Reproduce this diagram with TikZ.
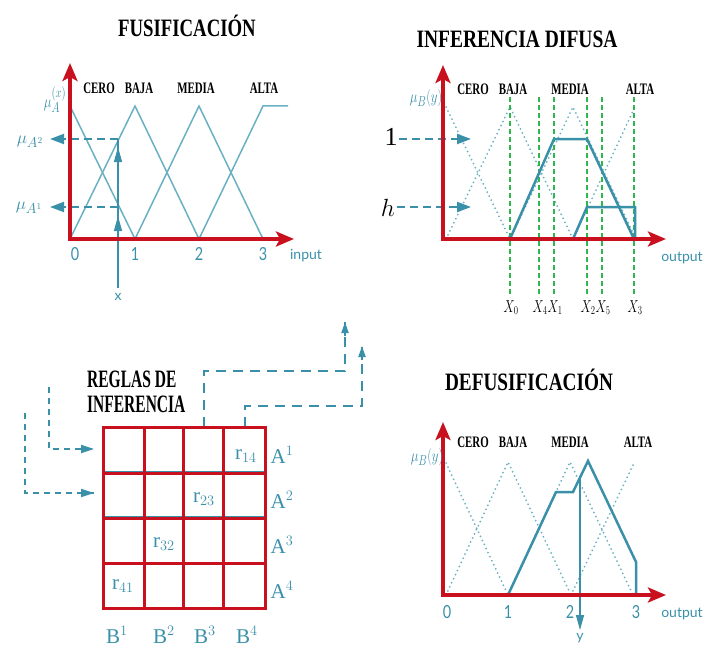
\documentclass[tikz,border=0pt]{standalone}
\usepackage{fontspec}
\setmainfont{Liberation Serif}
\newfontfamily\labfont{Lato}
\usetikzlibrary{arrows.meta}
\definecolor{axred}{HTML}{C8101E}
\definecolor{tealA}{HTML}{3A90A8}
\definecolor{tealB}{HTML}{6AB0C2}
\definecolor{gdash}{HTML}{2DB84C}
\newcommand{\hsc}[2]{\scalebox{#1}[1]{#2}}
\tikzset{
  axis/.style={axred, line width=3.6pt, line join=miter,
    {Stealth[length=18pt,width=15pt,inset=4pt]}-{Stealth[length=18pt,width=15pt,inset=4pt]}},
  mf/.style={tealB, line width=1.5pt},
  mfd/.style={tealB, line width=2pt, dash pattern=on 0pt off 4.5pt, line cap=round},
  sol/.style={tealA, line width=2.5pt, line join=miter},
  levdash/.style={tealA, line width=2pt, dash pattern=on 8pt off 5pt, -{Triangle[length=14pt,width=10pt]}},
  conn/.style={tealA, line width=2pt, dash pattern=on 10pt off 7pt},
  connsm/.style={tealA, line width=1.8pt, dash pattern=on 6pt off 5pt},
  gline/.style={gdash, line width=1.4pt, dash pattern=on 5pt off 3pt},
  uptip/.style={tealA, line width=1pt, -{Triangle[length=15pt,width=8pt]}},
  title/.style={font=\fontsize{25}{25}\selectfont\bfseries, inner sep=0, anchor=base},
  setlab/.style={font=\fontsize{16}{16}\selectfont\bfseries, inner sep=0, anchor=base},
  tnum/.style={tealA, font=\labfont\fontsize{18}{18}\selectfont, inner sep=0, anchor=base},
  tword/.style={tealA, font=\labfont\fontsize{14}{14}\selectfont, inner sep=0, anchor=base},
  mulab/.style={tealA, font=\fontsize{19}{19}\selectfont, inner sep=0},
  xlab/.style={font=\fontsize{18}{18}\selectfont, inner sep=0, anchor=base west},
  cell/.style={tealA, font=\fontsize{21}{21}\selectfont, inner sep=0},
  grid/.style={axred, line width=3pt},
}
\begin{document}
\begin{tikzpicture}[x=1pt,y=-1pt]
\useasboundingbox (0,0) rectangle (727,650);
\clip (0,0) rectangle (727,650);

% ================= FUSIFICACION =================
\node[title] (t1) at (187,37) {\hsc{0.75}{FUSIFICACIÓN}};
\draw[mf] (70,106) -- (135,239);
\draw[mf] (70,239) -- (135,106) -- (199,239);
\draw[mf] (135,239) -- (199,106) -- (263,239);
\draw[mf] (199,239) -- (263,106) -- (288,106);
\coordinate (xb) at (118,288);
\coordinate (xt) at (118,139);
\coordinate (xm) at (118,207);
\draw[tealA, line width=1.4pt] (xb) -- (xt);
\draw[uptip] (118,238) -- (118,216);
\draw[uptip] (118,170) -- (118,147);
\coordinate (l2) at (50,139);
\coordinate (l1) at (50,207);
\draw[levdash] (xt) -- (l2);
\draw[levdash] (xm) -- (l1);
\draw[axis] (70,63) -- (70,239) -- (294,239);
\node[setlab] (c1) at (99,94) {\hsc{0.68}{CERO}};
\node[setlab] (b1) at (139,94) {\hsc{0.68}{BAJA}};
\node[setlab] (m1) at (196,94) {\hsc{0.68}{MEDIA}};
\node[setlab] (a1) at (264,94) {\hsc{0.68}{ALTA}};
\node[mulab] (mua) at (55,100) {\hsc{0.75}{$\mu_A^{(x)}$}};
\node[mulab] (mua2) at (30,142) {$\mu_{A^2}$};
\node[mulab] (mua1) at (29,208) {$\mu_{A^1}$};
\node[tnum] (n10) at (75,260) {\hsc{0.8}{0}};
\node[tnum] (n11) at (135,260) {\hsc{0.8}{1}};
\node[tnum] (n12) at (199,260) {\hsc{0.8}{2}};
\node[tnum] (n13) at (263,260) {\hsc{0.8}{3}};
\node[tword] (in1) at (306,259) {input};
\node[tword] (xl1) at (118,300) {x};

% ================= INFERENCIA DIFUSA =================
\node[title] (t2) at (517,48) {\hsc{0.78}{INFERENCIA DIFUSA}};
\draw[mfd] (446,107) -- (510,239);
\draw[mfd] (446,239) -- (510,107) -- (573,239);
\draw[mfd] (510,239) -- (573,107) -- (636,239);
\draw[mfd] (573,239) -- (634,109);
\foreach \gx/\nm in {510/0,539/4,554/1,587/2,602/5,634/3}{
  \coordinate (gt\nm) at (\gx,97);
  \coordinate (gb\nm) at (\gx,297);
  \draw[gline] (gt\nm) -- (gb\nm);
  \node[xlab] (X\nm) at (\gx-6.5,312) {\hsc{0.72}{$X_{\nm}$}};
}
\draw[sol] (510,239) -- (554,139) -- (587,139) -- (634,239);
\draw[sol] (573,239) -- (587,207) -- (635,207) -- (635,239);
\node[font=\fontsize{26}{26}\selectfont, inner sep=0, anchor=base] (one) at (391,145) {1};
\node[font=\fontsize{26}{26}\selectfont, inner sep=0, anchor=base] (hh) at (388,216) {$h$};
\coordinate (r1) at (471,139);
\coordinate (rh) at (471,207);
\draw[levdash] (399,139) -- (r1);
\draw[levdash] (397,207) -- (rh);
\draw[axis] (443,65) -- (443,239) -- (666,239);
\node[setlab] (c2) at (473,95) {\hsc{0.68}{CERO}};
\node[setlab] (b2) at (513,95) {\hsc{0.68}{BAJA}};
\node[setlab] (m2) at (570,95) {\hsc{0.68}{MEDIA}};
\node[setlab] (a2) at (640,95) {\hsc{0.68}{ALTA}};
\node[mulab] (mub2) at (426,98) {\hsc{0.75}{$\mu_B(y)$}};
\node[tword] (out2) at (682,261) {output};

% ================= REGLAS DE INFERENCIA =================
\node[title, anchor=base west] (t3a) at (87,387) {\hsc{0.62}{REGLAS DE}};
\node[title, anchor=base west] (t3b) at (87,412) {\hsc{0.62}{INFERENCIA}};
% connectors
\coordinate (ca0) at (25,413);
\coordinate (ca1) at (25,493);
\coordinate (ca2) at (94,493);
\draw[connsm] (ca0) -- (ca1) -- (ca2);
\draw[tealA, -{Triangle[length=13pt,width=8pt]}, line width=1.8pt] (82,493) -- (ca2);
\coordinate (cb0) at (49,387);
\coordinate (cb1) at (49,449);
\coordinate (cb2) at (94,449);
\draw[connsm] (cb0) -- (cb1) -- (cb2);
\draw[tealA, -{Triangle[length=13pt,width=8pt]}, line width=1.8pt] (82,449) -- (cb2);
\coordinate (cc0) at (204,427);
\coordinate (cc1) at (204,371);
\coordinate (cc2) at (345,371);
\coordinate (cc3) at (345,322);
\draw[conn] (cc0) -- (cc1) -- (cc2) -- (cc3);
\draw[tealA, -{Triangle[length=11pt,width=7pt]}, line width=2pt] (345,336) -- (cc3);
\coordinate (cd0) at (245,427);
\coordinate (cd1) at (245,406);
\coordinate (cd2) at (362,406);
\coordinate (cd3) at (362,346);
\draw[conn] (cd0) -- (cd1) -- (cd2) -- (cd3);
\draw[tealA, -{Triangle[length=11pt,width=7pt]}, line width=2pt] (362,360) -- (cd3);
% grid
\draw[tealA, line width=1.5pt] (103,471.5) -- (265,471.5);
\draw[tealA, line width=1.2pt] (103,516.5) -- (265,516.5);
\draw[grid] (103,427) rectangle (265,608);
\foreach \gx in {144,183,223}{\draw[grid] (\gx,427) -- (\gx,608);}
\foreach \gy in {473,518,563}{\draw[grid] (103,\gy) -- (265,\gy);}
\node[cell] (r14) at (246,456) {$\mathrm{r}_{14}$};
\node[cell] (r23) at (204,499) {$\mathrm{r}_{23}$};
\node[cell] (r32) at (164,544) {$\mathrm{r}_{32}$};
\node[cell] (r41) at (123,586) {$\mathrm{r}_{41}$};
\node[cell] (A1) at (282,455) {$\mathrm{A}^1$};
\node[cell] (A2) at (282,500) {$\mathrm{A}^2$};
\node[cell] (A3) at (282,545) {$\mathrm{A}^3$};
\node[cell] (A4) at (282,590) {$\mathrm{A}^4$};
\node[cell] (B1) at (117,635) {$\mathrm{B}^1$};
\node[cell] (B2) at (164,635) {$\mathrm{B}^2$};
\node[cell] (B3) at (205,635) {$\mathrm{B}^3$};
\node[cell] (B4) at (247,635) {$\mathrm{B}^4$};

% ================= DEFUSIFICACION =================
\node[title] (t4) at (529,390) {\hsc{0.77}{DEFUSIFICACIÓN}};
\draw[mfd] (446,463) -- (508,595);
\draw[mfd] (446,595) -- (508,462) -- (571,595);
\draw[mfd] (508,595) -- (570,462) -- (633,595);
\draw[mfd] (571,595) -- (633,465);
\draw[sol] (508,595) -- (556,492) -- (573,492) -- (588,461) -- (636,562) -- (636,595);
\coordinate (yt) at (580,478);
\coordinate (yb) at (580,630);
\draw[tealA, line width=1.4pt, -{Triangle[length=15pt,width=8pt]}] (yt) -- (yb);
\draw[axis] (443,422) -- (443,595) -- (666,595);
\node[setlab] (c4) at (473,447) {\hsc{0.68}{CERO}};
\node[setlab] (b4) at (513,447) {\hsc{0.68}{BAJA}};
\node[setlab] (m4) at (570,447) {\hsc{0.68}{MEDIA}};
\node[setlab] (a4) at (638,447) {\hsc{0.68}{ALTA}};
\node[mulab] (mub4) at (427,457) {\hsc{0.75}{$\mu_B(y)$}};
\node[tnum] (n40) at (447,618) {\hsc{0.8}{0}};
\node[tnum] (n41) at (508,618) {\hsc{0.8}{1}};
\node[tnum] (n42) at (570,618) {\hsc{0.8}{2}};
\node[tnum] (n43) at (636,618) {\hsc{0.8}{3}};
\node[tword] (out4) at (682,617) {output};
\node[tword, anchor=north] (yl4) at (580,633) {y};
\end{tikzpicture}
\end{document}
